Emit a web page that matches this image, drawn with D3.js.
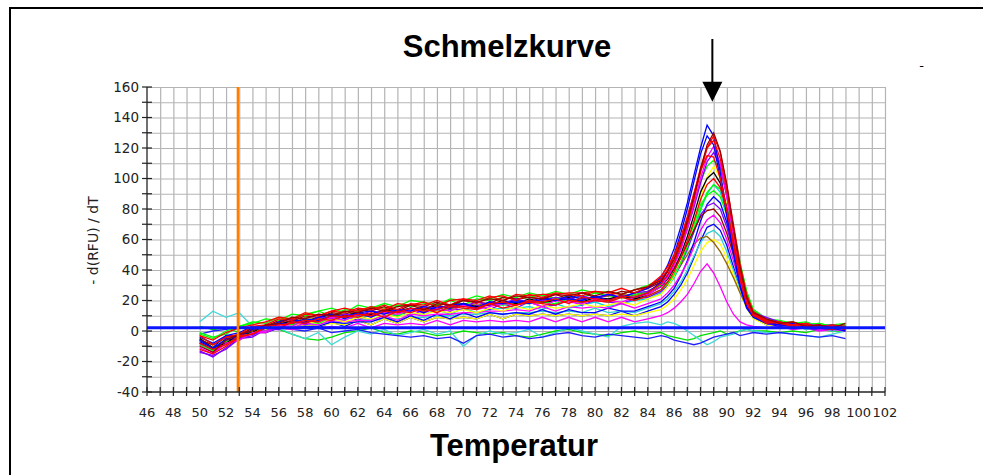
<!DOCTYPE html>
<html><head><meta charset="utf-8">
<script src="https://cdn.jsdelivr.net/npm/d3@7"></script>
<style>body{margin:0;background:#fff}svg{display:block}</style>
</head><body><svg id="c" width="983" height="475"></svg>
<script>
// ---------- DATA ----------
const temps = [50,51,52,53,54,55,56,57,58,59,60,61,62,63,64,65,66,67,68,69,70,71,72,73,74,75,76,77,78,79,80,81,82,83,84,
  85,85.5,86,86.5,87,87.5,88,88.5,89,89.5,90,90.5,91,91.5,92,
  93,94,95,96,97,98,99];
const xTicks = [46,48,50,52,54,56,58,60,62,64,66,68,70,72,74,76,78,80,82,84,86,88,90,92,94,96,98,100,102];
const yTicks = [-40,-20,0,20,40,60,80,100,120,140,160];
const thresholdValue = 2.2;
const markerTemp = 52.9;
const arrowTemp = 88.9;

const curveA = [-6,-11,-3,-1,3,2,6,8,5,9,11,8,12,13,11,14,13,16,14,17,18,15,19,18,20,19,22,20,23,21,22,24,22,25,28,
  35,43,54,68,84,102,120,135,128,104,78,52,30,16,10, 6,4,5,2,4,1,3];
const curveB = [-10,-14,-6,-2,0,4,5,9,8,11,10,13,12,15,13,16,17,14,18,17,20,19,21,20,23,22,21,24,23,25,23,26,24,27,29,
  33,39,47,58,72,88,106,122,130,118,96,68,42,22,12, 8,5,6,3,4,2,5];
const curveC = [-8,-12,-9,-3,-2,3,4,5,7,6,10,9,11,10,13,12,15,13,14,17,16,15,18,19,17,20,19,21,18,22,21,20,23,22,25,
  31,37,45,56,70,86,104,120,128,117,95,70,44,24,13, 7,6,4,5,2,4,3];
const curveD = [-3,-6,-1,2,4,6,9,8,12,10,13,15,13,16,14,18,17,19,16,20,21,18,22,23,20,24,22,25,24,23,26,25,24,27,29,
  34,40,49,60,74,90,107,120,125,113,92,66,41,22,12, 6,5,3,5,2,3,1];
const curveE = [-11,-15,-8,-6,-1,0,4,3,7,6,9,7,11,10,12,11,14,12,15,13,17,14,16,18,17,19,16,20,19,18,21,20,19,22,24,
  29,35,43,53,67,83,100,114,121,110,88,62,38,20,11, 8,4,5,3,4,1,3];
const curveF = [-13,-17,-11,-5,-3,2,1,6,5,9,8,11,10,13,12,14,13,16,15,17,16,19,17,18,21,19,20,22,21,23,21,24,22,25,26,
  31,36,44,54,67,81,97,111,117,108,88,64,40,22,12, 9,6,4,5,3,4,2];
const curveG = [-2,-5,0,3,5,8,7,11,10,13,15,12,17,15,18,16,20,19,17,21,20,23,21,24,22,25,23,26,24,27,25,26,24,27,30,
  34,39,47,57,69,83,98,108,112,106,90,68,45,26,14, 8,7,5,6,3,4,5];
const curveH = [-6,-10,-5,-4,1,1,4,3,6,5,8,6,9,8,11,9,12,11,13,12,14,12,15,13,16,14,17,15,16,18,16,17,19,17,21,
  24,29,36,45,57,71,87,101,108,100,82,60,38,21,12, 6,5,3,4,2,3,1];
const curveI = [-5,-11,-8,-2,-1,4,4,7,6,9,11,10,12,11,14,13,15,14,17,15,18,16,17,20,18,21,19,20,22,19,22,21,23,21,24,
  29,34,41,50,62,76,91,100,104,97,80,58,37,20,11, 7,4,5,3,2,3,1];
const curveJ = [-12,-15,-10,-4,-2,2,2,6,5,8,7,10,9,12,9,13,12,15,12,16,15,14,18,15,17,19,18,17,20,19,20,19,22,20,23,
  27,32,39,48,59,72,86,96,100,94,79,59,38,21,11, 5,6,3,4,2,1,3];
const curveK = [-8,-13,-7,-5,0,1,4,4,5,5,8,7,10,7,11,10,11,11,14,11,15,12,14,15,15,16,14,18,15,17,19,16,18,20,21,
  25,29,35,43,53,65,79,90,96,91,77,58,38,21,11, 7,4,5,2,3,1,2];
const curveL = [-1,-4,-2,3,6,5,9,8,11,13,10,14,13,16,15,17,16,18,17,20,17,21,20,22,21,22,24,21,23,22,25,23,22,24,26,
  30,34,40,48,58,70,83,89,92,88,76,60,41,24,13, 8,5,6,4,5,3,4];
const curveM = [-7,-11,-6,-5,-1,-1,2,2,3,3,6,5,6,6,9,6,10,7,11,8,12,9,12,11,12,11,14,11,14,12,12,15,13,13,16,
  19,23,28,36,46,58,72,83,88,84,71,53,34,19,10, 5,3,4,2,1,2,0];
const curveN = [-14,-16,-12,-5,-4,1,1,5,4,7,6,10,7,11,10,13,10,14,13,14,14,17,14,18,15,19,16,17,20,17,20,19,18,21,22,
  26,30,36,44,54,65,76,82,84,80,68,52,35,20,11, 6,4,5,3,4,2,3];
const curveO = [-6,-9,-4,-3,2,3,7,6,10,9,12,11,14,13,16,13,17,16,19,16,20,19,18,22,21,22,21,24,21,25,22,23,26,25,28,
  32,36,41,48,57,66,75,79,80,75,64,50,35,21,12, 7,6,4,5,3,4,2];
const curveP = [-9,-14,-8,-6,-1,-1,3,2,5,4,7,6,7,7,10,7,11,10,11,11,12,12,13,13,14,13,16,13,16,15,16,15,18,15,18,
  21,25,30,37,45,55,66,73,76,71,60,46,31,18,10, 5,4,2,3,1,2,1];
const curveQ = [-4,-8,-3,-3,1,0,3,2,5,2,6,3,7,4,8,5,9,6,9,8,9,8,11,8,11,10,11,10,11,10,11,10,13,10,13,
  16,19,24,30,38,48,59,68,70,66,56,42,28,16,9, 4,5,2,3,1,2,0];
const curveR = [-7,-12,-6,-5,0,0,3,3,4,4,7,4,8,7,8,8,9,9,10,10,11,11,12,11,12,12,13,12,13,12,15,12,13,12,15,
  18,21,26,32,40,49,58,64,66,62,52,40,27,16,9, 5,3,4,1,2,0,1];
const curveS = [-5,-10,-5,-3,2,2,6,5,9,8,11,10,13,10,14,13,14,14,17,14,18,17,18,18,19,19,20,20,21,20,23,20,24,23,26,
  29,32,37,43,50,57,61,62,58,52,44,35,25,16,10, 6,4,5,3,2,3,1];
const curveU = [-8,-12,-7,-6,-1,-1,2,1,4,3,5,4,7,4,8,5,9,6,9,8,9,8,11,8,11,10,11,10,11,10,11,10,11,10,12,
  14,17,21,27,34,43,52,58,60,57,48,37,25,15,8, 4,3,2,3,1,2,0];
const curveV = [-6,-10,-5,-4,0,-1,2,1,2,2,3,2,5,2,5,4,5,4,7,4,7,6,7,6,7,6,9,6,9,6,9,6,9,6,8,
  10,12,15,19,24,31,39,44,38,29,19,11,6,4,3, 2,3,1,2,0,1,0];
const curveW = [-9,-13,-7,-6,0,0,5,4,8,5,9,9,10,10,13,10,14,13,16,13,17,14,18,17,18,18,19,18,21,18,22,19,22,21,23,
  27,31,37,45,55,67,80,91,96,93,82,64,44,26,14, 8,6,5,4,5,3,4];
const curveX = [-3,-9,-4,-2,3,4,8,7,11,10,13,12,15,14,17,14,18,17,20,17,21,20,23,20,24,23,24,24,25,25,26,25,28,25,29,
  36,42,50,61,75,90,105,115,114,100,80,56,34,18,10, 7,5,6,3,4,2,3];
const curveY = [-8,-12,-5,-4,1,2,5,5,8,7,10,9,12,9,13,12,15,12,16,15,18,15,19,18,19,18,21,20,21,20,23,20,23,22,25,
  32,39,50,64,80,98,116,128,122,100,75,50,29,15,9, 5,4,3,4,2,1,2];
const ctrlCyan = [6,13,9,12,3,0,2,-2,-5,-1,-9,-4,0,-2,1,-3,-1,1,-2,0,-10,-3,0,-2,-1,1,-4,-1,2,0,-2,-4,3,5,6,
  4,6,5,3,0,-3,-6,-9,-7,-4,-3,-2,0,1,0, -1,-1,-2,-3,-4,-2,0];
const ctrlGreen = [3,1,2,-1,0,2,1,-2,-5,-6,-4,-1,0,2,-1,-2,0,-1,-3,-2,0,-1,-2,-1,-3,-4,-2,0,1,-1,-2,-3,-1,0,-2,
  -1,-3,-4,-5,-6,-5,-3,-2,-1,0,-2,-1,0,1,0, 0,-1,0,-1,1,0,0];
const ctrlBlue = [-2,0,1,2,1,3,2,1,0,2,-1,0,1,-1,-2,-3,-4,-3,-5,-4,-8,-3,-2,-4,-3,-5,-4,-2,-1,-3,-4,-2,-3,-4,-5,
  -3,-4,-6,-7,-8,-9,-8,-6,-4,-3,-2,-1,-3,-2,-1, -2,-1,-2,-3,-4,-3,-5];

const seriesList = [ctrlGreen, ctrlCyan, ctrlBlue,
  curveK, curveQ, curveR, curveU, curveV, curveS, curveM, curveN, curveP, curveH, curveL, curveW,
  curveI, curveO, curveG, curveF, curveE, curveY, curveA, curveJ, curveX, curveD, curveC, curveB];
const seriesColors = ["#00e000","#40d8d8","#2020ff",
  "#00d8d8","#0000ff","#30d0d0","#ffff00","#ff00ff","#996600","#0000ff","#8000ff","#ff00ff","#ffff00","#00ff00","#00ff00",
  "#000000","#990000","#00ff00","#8000ff","#ff00ff","#0000ff","#0000ff","#ff0000","#ff0000","#ff0000","#ff0000","#990000"];

// ---------- CHART ----------
const svg = d3.select('#c');
const x = d3.scaleLinear().domain([46,102]).range([147,885]);
const y = d3.scaleLinear().domain([-40,160]).range([392,87]);

// outer frame (top and left)
svg.append('line').attr('x1',9).attr('x2',983).attr('y1',8).attr('y2',8).attr('stroke','#000').attr('stroke-width',2);
svg.append('line').attr('x1',10).attr('x2',10).attr('y1',7).attr('y2',475).attr('stroke','#000').attr('stroke-width',2);

// grid
const gxGrid = svg.append('g').attr('transform','translate(0,392)')
  .call(d3.axisBottom(x).tickValues(d3.range(47,103,1)).tickSize(-(392-87)).tickFormat(''));
gxGrid.select('.domain').remove();
gxGrid.selectAll('line').attr('stroke','#b4b4b4').attr('stroke-width',1.2);
const gyGrid = svg.append('g').attr('transform','translate(147,0)')
  .call(d3.axisLeft(y).tickValues(d3.range(-30,161,10)).tickSize(-(885-147)).tickFormat(''));
gyGrid.select('.domain').remove();
gyGrid.selectAll('line').attr('stroke','#b4b4b4').attr('stroke-width',1.2);

// curves
const line = d3.line().x((d,i)=>x(temps[i])).y(d=>y(d));
svg.append('g').selectAll('path').data(seriesList).join('path')
  .attr('d', d=>line(d)).attr('fill','none')
  .attr('stroke',(d,i)=>seriesColors[i]).attr('stroke-width',1.3);

// threshold line
svg.append('line').attr('x1',x(46)).attr('x2',x(102)).attr('y1',y(thresholdValue)).attr('y2',y(thresholdValue))
  .attr('stroke','#0a14ff').attr('stroke-width',3);
// orange marker
svg.append('line').attr('x1',x(markerTemp)).attr('x2',x(markerTemp)).attr('y1',y(160)).attr('y2',y(-40))
  .attr('stroke','#ff8000').attr('stroke-width',2.5);

// axes lines
svg.append('line').attr('x1',147).attr('x2',147).attr('y1',87).attr('y2',392).attr('stroke','#222').attr('stroke-width',1.3);
svg.append('line').attr('x1',147).attr('x2',885).attr('y1',392).attr('y2',392).attr('stroke','#222').attr('stroke-width',1.3);
// cross ticks
svg.append('g').selectAll('line').data(d3.range(46,103,1)).join('line')
  .attr('x1',d=>x(d)).attr('x2',d=>x(d)).attr('y1',387).attr('y2',396).attr('stroke','#222').attr('stroke-width',1.2);
svg.append('g').selectAll('line').data(d3.range(-40,161,10)).join('line')
  .attr('x1',142).attr('x2',152).attr('y1',d=>y(d)).attr('y2',d=>y(d)).attr('stroke','#222').attr('stroke-width',1.2);

// tick labels
svg.append('g').selectAll('text').data(xTicks).join('text')
  .attr('x',d=>x(d)).attr('y',417).attr('text-anchor','middle')
  .style('font','13px "DejaVu Sans"').attr('fill','#222').text(d=>d);
svg.append('g').selectAll('text').data(yTicks).join('text')
  .attr('x',139).attr('y',d=>y(d)).attr('dy','0.36em').attr('text-anchor','end')
  .style('font','13.5px "DejaVu Sans"').attr('fill','#222').text(d=>d);

// axis titles
svg.append('text').attr('transform','translate(98,240.5) rotate(-90)').attr('text-anchor','middle')
  .style('font','14px "DejaVu Sans"').attr('fill','#222').text('- d(RFU) / dT');
svg.append('text').attr('x',507).attr('y',57).attr('text-anchor','middle')
  .style('font','bold 31px "Liberation Sans"').attr('fill','#000').text('Schmelzkurve');
svg.append('text').attr('x',514).attr('y',456).attr('text-anchor','middle')
  .style('font','bold 31px "Liberation Sans"').attr('fill','#000').text('Temperatur');
svg.append('text').attr('x',921.5).attr('y',70).attr('text-anchor','middle')
  .style('font','13px "DejaVu Sans"').attr('fill','#000').text('-');

// arrow
const ax = x(arrowTemp);
svg.append('line').attr('x1',ax).attr('x2',ax).attr('y1',39).attr('y2',84).attr('stroke','#000').attr('stroke-width',2);
svg.append('path').attr('d',`M${ax-10},81.7L${ax+10},81.7L${ax},101.7Z`).attr('fill','#000');
</script></body></html>
